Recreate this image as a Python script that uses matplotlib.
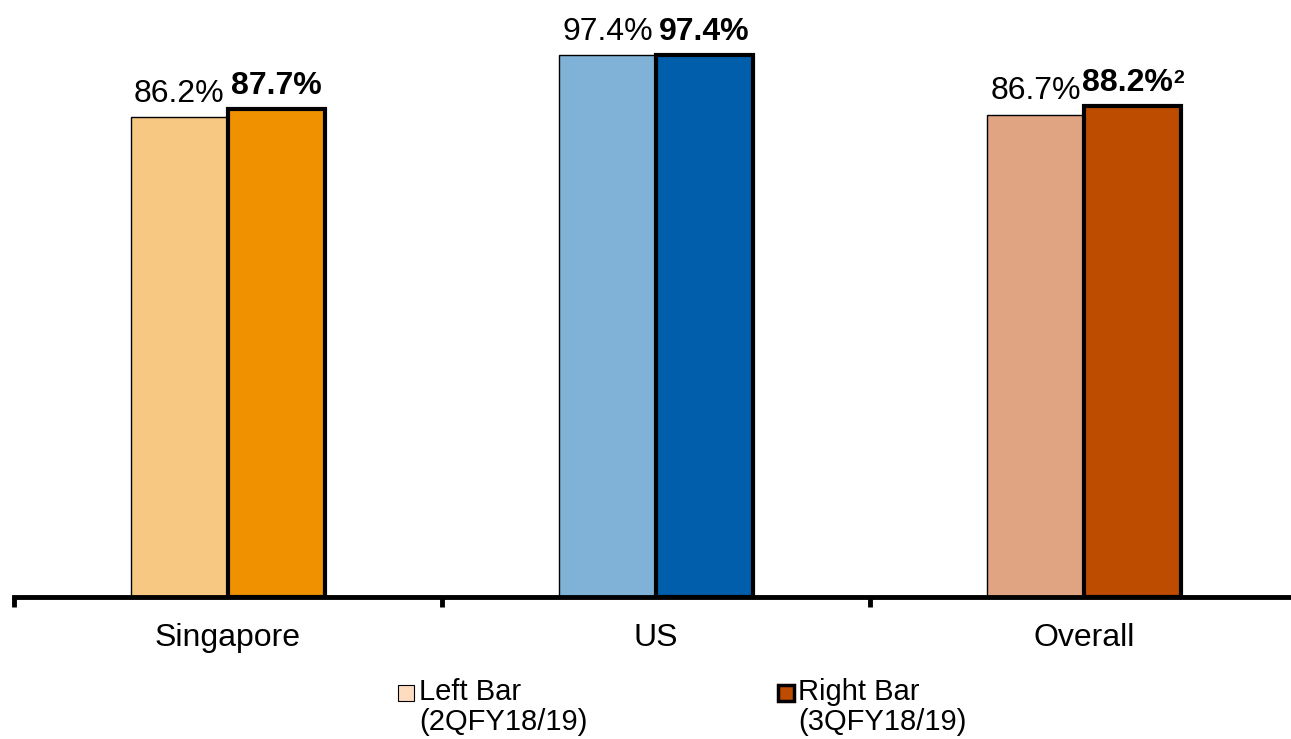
import matplotlib.pyplot as plt
import numpy as np

plt.rcParams['font.family'] = ['Liberation Sans', 'DejaVu Sans']

categories = ['Singapore', 'US', 'Overall']
left_vals = [86.2, 97.4, 86.7]
right_vals = [87.7, 97.4, 88.2]
left_labels = ['86.2%', '97.4%', '86.7%']
right_labels = ['87.7%', '97.4%', '88.2%']
right_notes = ['', '', '2']
left_colors = ['#F7C882', '#80B1D7', '#E0A482']
right_colors = ['#F09200', '#005EAA', '#BD4B00']

fig = plt.figure(figsize=(12.91, 7.39), dpi=100)
ax = fig.add_axes([14 / 1291, 1 - 597 / 739, 1284 / 1291, 597 / 739])

x = np.arange(len(categories))
w = 0.227
ax.bar(x - w / 2, left_vals, w, color=left_colors, edgecolor='black', linewidth=1)
ax.bar(x + w / 2, right_vals, w, color=right_colors, edgecolor='black', linewidth=3)

for i in range(len(categories)):
    ax.annotate(left_labels[i], (x[i] - w / 2, left_vals[i]), xytext=(0, 6),
                textcoords='offset points', ha='center', va='bottom', fontsize=23)
    shift = -4 if right_notes[i] else 0
    t = ax.annotate(right_labels[i], (x[i] + w / 2, right_vals[i]), xytext=(shift, 6),
                    textcoords='offset points', ha='center', va='bottom', fontsize=23,
                    fontweight='bold')
    if right_notes[i]:
        ax.annotate(right_notes[i], xy=(1, 0.93), xycoords=t, xytext=(1, 0),
                    textcoords='offset points', ha='left', va='top', fontsize=14,
                    fontweight='bold')

ax.set_xlim(-0.5, 2.5)
ax.set_ylim(0, 107.3)
ax.set_yticks([])
for s in ['top', 'right', 'left']:
    ax.spines[s].set_visible(False)
ax.spines['bottom'].set_linewidth(3.5)
ax.set_xticks([-0.5, 0.5, 1.5, 2.5])
ax.set_xticklabels([])
ax.tick_params(axis='x', length=7, width=3.5, direction='out')
ax.set_xticks(x, minor=True)
ax.set_xticklabels(categories, minor=True, fontsize=23)
ax.tick_params(axis='x', which='minor', length=0, pad=19)

# legend
fig.patches.append(plt.Rectangle((398 / 1291, 1 - 701 / 739), 16 / 1291, 16 / 739,
                                 transform=fig.transFigure, facecolor='#FDDCC0',
                                 edgecolor='black', linewidth=0.8))
fig.text(419 / 1291, 1 - 707 / 739, 'Left Bar\n(2QFY18/19)', fontsize=21,
         va='center', ha='left', linespacing=1.1)
fig.patches.append(plt.Rectangle((778 / 1291, 1 - 701 / 739), 16 / 1291, 16 / 739,
                                 transform=fig.transFigure, facecolor='#BD4B00',
                                 edgecolor='black', linewidth=2.5))
fig.text(798 / 1291, 1 - 707 / 739, 'Right Bar\n(3QFY18/19)', fontsize=21,
         va='center', ha='left', linespacing=1.1)

fig.savefig('out.png', dpi=100)
